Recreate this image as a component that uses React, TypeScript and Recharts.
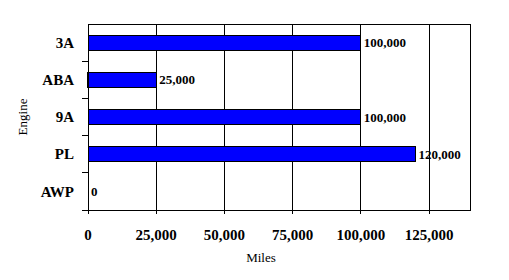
import { BarChart, Bar, XAxis, YAxis, CartesianGrid, ReferenceArea, LabelList } from 'recharts'

const engines = ['3A', 'ABA', '9A', 'PL', 'AWP']
const miles = [100000, 25000, 100000, 120000, 0]
const mileTicks = [0, 25000, 50000, 75000, 100000, 125000]
const maxMiles = 140000

const data = engines.map((engine, i) => ({ engine, miles: miles[i] }))

const FONT = '"Liberation Serif", "Times New Roman", serif'
const W = 509
const H = 280
const margin = { top: 24, right: 39, bottom: 0, left: 0 }
const Y_AXIS_W = 88
const X_AXIS_H = 70
const plotH = H - margin.top - margin.bottom - X_AXIS_H
const band = plotH / engines.length

const fmt = (v: number) => v.toLocaleString('en-US')

// 类别标签 + 分隔刻度（刻度画在类别之间）
function EngineTick(props: any) {
  const { y, payload } = props
  const axisX = Y_AXIS_W
  return (
    <g>
      <text
        x={axisX - 14}
        y={y}
        dy="0.35em"
        textAnchor="end"
        style={{ fontFamily: FONT, fontSize: 15, fontWeight: 'bold', fill: '#000' }}
      >
        {payload.value}
      </text>
      <line x1={axisX - 6} x2={axisX} y1={y + band / 2} y2={y + band / 2} stroke="#000" />
    </g>
  )
}

// Miles 标签 + 整个图的外框（用四条细矩形画）
function MilesLabel(props: any) {
  const { viewBox } = props
  const cx = viewBox.x + viewBox.width / 2 - 18
  const by = viewBox.y + viewBox.height - 18
  return (
    <g>
      <rect x={5} y={5} width={499} height={1} fill="#000" />
      <rect x={5} y={274} width={499} height={1} fill="#000" />
      <rect x={5} y={5} width={1} height={270} fill="#000" />
      <rect x={503} y={5} width={1} height={270} fill="#000" />
      <text x={cx} y={by} textAnchor="middle" style={{ fontFamily: FONT, fontSize: 13, fill: '#000' }}>
        Miles
      </text>
    </g>
  )
}

export default function App() {
  return (
    <div style={{ width: W, height: H, margin: -8, background: '#fff' }}>
      <BarChart width={W} height={H} data={data} layout="vertical" margin={margin} style={{ shapeRendering: 'crispEdges' }}>
        <CartesianGrid horizontal={false} vertical stroke="#000" strokeOpacity={1} />
        <ReferenceArea x1={0} x2={maxMiles} fill="none" stroke="#000" strokeOpacity={1} fillOpacity={0} />
        <XAxis
          type="number"
          dataKey="miles"
          domain={[0, maxMiles]}
          ticks={mileTicks}
          tickFormatter={fmt}
          height={X_AXIS_H}
          axisLine={{ stroke: '#000' }}
          tickLine={{ stroke: '#000' }}
          tickSize={4}
          tickMargin={15}
          tick={{ fontFamily: FONT, fontSize: 15, fontWeight: 'bold', fill: '#000' }}
          label={<MilesLabel />}
        />
        <YAxis
          type="category"
          dataKey="engine"
          width={Y_AXIS_W}
          axisLine={{ stroke: '#000' }}
          tickLine={false}
          tick={<EngineTick />}
          label={{
            value: 'Engine',
            angle: -90,
            position: 'insideLeft',
            offset: 22,
            style: { fontFamily: FONT, fontSize: 13, fill: '#000', textAnchor: 'middle' },
          }}
        />
        <Bar
          dataKey="miles"
          fill="#0000ff"
          stroke="#000"
          strokeWidth={1}
          barSize={15}
          minPointSize={0.01}
          isAnimationActive={false}
        >
          <LabelList
            dataKey="miles"
            position="right"
            offset={3}
            formatter={(v: any) => fmt(Number(v))}
            style={{ fontFamily: FONT, fontSize: 13, fontWeight: 'bold', fill: '#000' }}
          />
        </Bar>
      </BarChart>
    </div>
  )
}
